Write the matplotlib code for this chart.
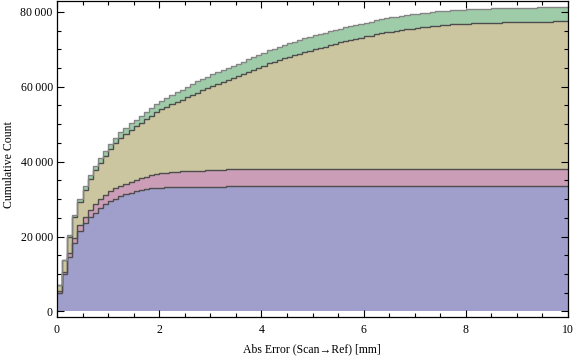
import numpy as np
import matplotlib
matplotlib.use("Agg")
import matplotlib.pyplot as plt
from matplotlib.ticker import MultipleLocator, FuncFormatter

# bin edges (mm)
bin_edges = np.linspace(0, 10, 101)

# cumulative counts of each data set per bin (stacked bottom -> top)
series_a = [5000, 10100, 14500, 18200, 21500, 23550, 25150, 26400, 27500, 28600,
            29400, 30150, 30800, 31300, 31700, 32100, 32400, 32650, 32850, 33000,
            33070, 33150, 33200, 33250, 33280, 33300, 33310, 33320, 33330, 33340,
            33350, 33350, 33350] + [33520] * 67
series_b = [400, 550, 1050, 1350, 1500, 1750, 1950, 2200, 2400, 2500,
            2650, 2700, 2720, 2750, 2900, 3000, 3150, 3300, 3450, 3600,
            3780, 3900, 3960, 4060, 4150, 4190, 4230, 4260, 4280] + [4400] * 9 + [4600] * 62
series_c = [1550, 2950, 4350, 5650, 6200, 7250, 8150, 9050, 9750, 10500,
            11350, 12100, 12780, 13450, 13950, 14350, 14800, 15400, 15950, 16550,
            17100, 17600, 18190, 18640, 19120, 19760, 20310, 20870, 21390, 21910,
            22450, 23000, 23550, 23930, 24400, 24870, 25440, 26010, 26380, 26960,
            27540, 28120, 28600, 29030, 29460, 29890, 30320, 30750, 31180, 31520,
            31960, 32300, 32590, 33030, 33420, 33760, 34100, 34390, 34730, 34970,
            35310, 35550, 35890, 36180, 36420, 36610, 36850, 37040, 37180, 37380,
            37630, 37780, 37880, 38030, 38180, 38330, 38430, 38530, 38580, 38680,
            38730, 38780, 38830, 38880, 38930, 38980, 39030, 39080, 39130, 39130,
            39180, 39180, 39230, 39230, 39280, 39280, 39280, 39330, 39330, 39380]
series_d = [150, 200, 400, 600, 800, 950, 1050, 1150, 1250, 1300,
            1400, 1450, 1500, 1600, 1650, 1750, 1850, 1950, 2050, 2150,
            2250, 2350, 2450, 2550, 2650, 2750, 2850, 2950, 3000, 3050,
            3100, 3150, 3200, 3250, 3280, 3310, 3340, 3370, 3400, 3420,
            3440, 3460, 3480, 3500, 3520, 3540, 3560, 3580, 3600, 3610,
            3620, 3630, 3640, 3650, 3660, 3670, 3680, 3690, 3700, 3710,
            3720, 3730, 3740, 3750, 3760, 3770, 3780, 3790] + [3800] * 32

fill_colors = ["#A09ECB", "#CC9DB6", "#CBC6A0", "#9ECBA8"]
edge_colors = ["#4d4d4d", "#4d4d4d", "#4d4d4d", "#858585"]

x_label = "Abs Error (Scan\u2192Ref) [mm]"
y_label = "Cumulative Count"

serif = ["Liberation Serif", "DejaVu Serif"]

fig = plt.figure(figsize=(5.76, 3.57), dpi=100)
ax = fig.add_axes([57 / 576, 40 / 357, 511 / 576, 316 / 357])

layers = np.array([series_a, series_b, series_c, series_d], dtype=float)
tops = np.cumsum(layers, axis=0)
base = np.zeros(layers.shape[1])
for i in range(4):
    ax.stairs(tops[i], bin_edges, baseline=base, fill=True,
              facecolor=fill_colors[i], edgecolor="none", zorder=1)
    base = tops[i]
for i in range(4):
    ax.stairs(tops[i], bin_edges, baseline=None, color=edge_colors[i],
              linewidth=1.0, zorder=2)

ax.set_xlim(0, 10)
ax.set_ylim(-1500, 82900)

ax.xaxis.set_major_locator(MultipleLocator(2))
ax.xaxis.set_minor_locator(MultipleLocator(0.5))
ax.yaxis.set_major_locator(MultipleLocator(20000))
ax.yaxis.set_minor_locator(MultipleLocator(5000))

def fmt_y(v, pos):
    v = int(round(v))
    if v >= 10000:
        s = f"{v:,}".replace(",", "\u2009")
        return s
    return str(v)

ax.yaxis.set_major_formatter(FuncFormatter(fmt_y))
ax.xaxis.set_major_formatter(FuncFormatter(lambda v, p: f"{int(round(v))}"))

ax.tick_params(which="both", direction="in", top=True, right=True,
               labeltop=False, labelright=False, color="black", width=0.8)
ax.tick_params(which="major", length=5)
ax.tick_params(which="minor", length=3)
for lab in ax.get_xticklabels() + ax.get_yticklabels():
    lab.set_family(serif)
    lab.set_fontsize(8.5)
ax.tick_params(axis="x", pad=5)
ax.tick_params(axis="y", pad=3)

for sp in ax.spines.values():
    sp.set_linewidth(0.9)
    sp.set_color("black")

fig.text(312 / 576, 1 - 349 / 357, x_label, ha="center", va="center",
         family=serif, fontsize=8.5)
fig.text(9 / 576, 1 - 165 / 357, y_label, ha="center", va="center",
         rotation=90, family=serif, fontsize=8.5)

fig.savefig("out.png", dpi=100)
